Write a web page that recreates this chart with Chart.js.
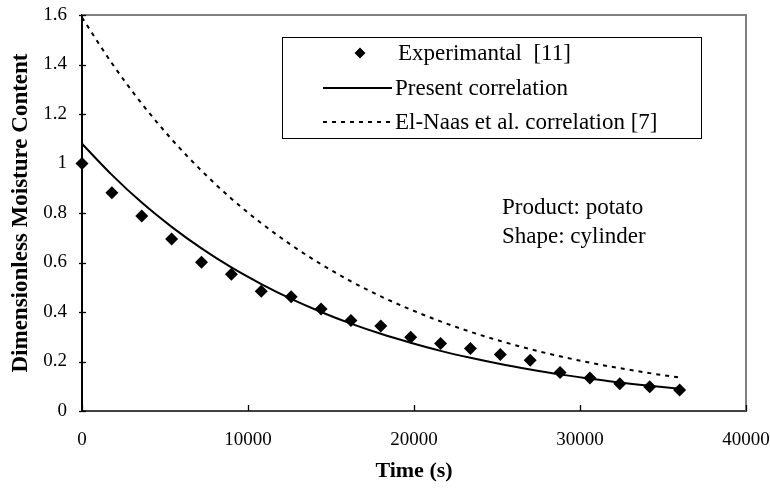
<!DOCTYPE html>
<html>
<head>
<meta charset="utf-8">
<script src="https://cdn.jsdelivr.net/npm/chart.js@4"></script>
<style>
html,body{margin:0;padding:0;background:#fff;}
canvas{display:block;}
</style>
</head>
<body>
<canvas id="c" width="770" height="488"></canvas>
<script>
// ---- data ----
const timeSec = [0,1800,3600,5400,7200,9000,10800,12600,14400,16200,18000,19800,21600,23400,25200,27000,28800,30600,32400,34200,36000];
const experimental = [1.0,0.882,0.788,0.695,0.601,0.553,0.484,0.462,0.412,0.366,0.343,0.298,0.273,0.253,0.228,0.205,0.156,0.133,0.110,0.098,0.085];
const presentCorr = [1.080,0.954,0.842,0.744,0.657,0.580,0.513,0.453,0.400,0.353,0.312,0.276,0.243,0.215,0.190,0.168,0.148,0.131,0.115,0.102,0.090];
const elNaasCorr = [1.590,1.405,1.242,1.098,0.971,0.858,0.759,0.671,0.593,0.524,0.463,0.410,0.362,0.320,0.283,0.250,0.221,0.195,0.173,0.153,0.135];
const seriesLabels = ['Experimantal  [11]','Present correlation','El-Naas et al. correlation [7]'];
const xTickMax = 40000, xTickStep = 10000;
const yTickMax = 1.6, yTickStep = 0.2;
const noteLines = ['Product: potato','Shape: cylinder'];

const FONT = '"Liberation Serif","Times New Roman",serif';
const pts = (ys) => timeSec.map((t,i)=>({x:t,y:ys[i]}));
const noPad = (s)=>{ s.paddingLeft=0; s.paddingRight=0; s.paddingTop=0; s.paddingBottom=0; };

const overlay = {
  id:'overlay',
  beforeDatasetsDraw(chart){
    const {ctx, chartArea:a, scales:{x,y}} = chart;
    ctx.save();
    ctx.strokeStyle='#808080'; ctx.lineWidth=2;
    ctx.beginPath();
    ctx.moveTo(a.left,a.top); ctx.lineTo(a.right,a.top); ctx.lineTo(a.right,a.bottom);
    ctx.stroke();
    ctx.strokeStyle='#000'; ctx.lineWidth=1.3;
    x.ticks.forEach(t=>{
      const px=Math.round(x.getPixelForValue(t.value))+0.5;
      ctx.beginPath(); ctx.moveTo(px,a.bottom); ctx.lineTo(px,a.bottom-6); ctx.stroke();
    });
    y.ticks.forEach(t=>{
      const py=Math.round(y.getPixelForValue(t.value))+0.5;
      ctx.beginPath(); ctx.moveTo(a.left-3,py); ctx.lineTo(a.left+4,py); ctx.stroke();
    });
    ctx.restore();
  },
  afterDraw(chart){
    const {ctx} = chart;
    const ds = chart.data.datasets;
    ctx.save();
    const bx=282, by=37, bw=419, bh=101;
    ctx.fillStyle='#fff'; ctx.fillRect(bx,by,bw,bh);
    ctx.strokeStyle='#000'; ctx.lineWidth=1;
    ctx.strokeRect(bx+0.5,by+0.5,bw,bh);
    const rows=[53,88,122];
    ctx.font='23px '+FONT; ctx.fillStyle='#000'; ctx.textBaseline='middle'; ctx.textAlign='left';
    ctx.beginPath();
    const mx=360,my=rows[0],r=5.5;
    ctx.moveTo(mx,my-r); ctx.lineTo(mx+r,my); ctx.lineTo(mx,my+r); ctx.lineTo(mx-r,my); ctx.closePath();
    ctx.fill();
    ctx.strokeStyle='#000'; ctx.lineWidth=2;
    ctx.beginPath(); ctx.moveTo(323,rows[1]); ctx.lineTo(392,rows[1]); ctx.stroke();
    ctx.setLineDash([4,5]);
    ctx.beginPath(); ctx.moveTo(323,rows[2]); ctx.lineTo(394,rows[2]); ctx.stroke();
    ctx.setLineDash([]);
    ctx.fillText(ds[0].label,398,rows[0]+1);
    ctx.fillText(ds[1].label,395,rows[1]+1);
    ctx.fillText(ds[2].label,395,rows[2]+1);
    ctx.fillText(noteLines[0],502,208);
    ctx.fillText(noteLines[1],502,237);
    ctx.restore();
  }
};

new Chart(document.getElementById('c'),{
  type:'scatter',
  data:{datasets:[
    {label:seriesLabels[0], data:pts(experimental), showLine:false, pointStyle:'rectRot', pointRadius:6.5, pointHoverRadius:6.5,
     backgroundColor:'#000', borderColor:'#000', borderWidth:0, clip:false, order:0},
    {label:seriesLabels[1], data:pts(presentCorr), showLine:true, pointRadius:0, borderColor:'#000', borderWidth:2,
     tension:0.4, cubicInterpolationMode:'monotone', order:1},
    {label:seriesLabels[2], data:pts(elNaasCorr), showLine:true, pointRadius:0, borderColor:'#000', borderWidth:2,
     borderDash:[4,5], tension:0.4, cubicInterpolationMode:'monotone', order:2}
  ]},
  options:{
    responsive:false, animation:false, devicePixelRatio:1,
    layout:{padding:{left:0,top:15,right:24,bottom:0}},
    plugins:{legend:{display:false}, tooltip:{enabled:false}},
    scales:{
      x:{type:'linear', min:0, max:xTickMax,
        ticks:{stepSize:xTickStep, color:'#000', font:{family:FONT,size:19}, padding:18, maxRotation:0,
          callback:(v)=>String(v)},
        grid:{drawOnChartArea:false, drawTicks:false},
        border:{display:true, color:'#404040', width:2},
        title:{display:true, text:'Time (s)', color:'#000', font:{family:FONT,size:22,weight:'bold'}, padding:{top:0,bottom:3}},
        afterFit:(s)=>{s.height=77; noPad(s);}
      },
      y:{type:'linear', min:0, max:yTickMax,
        ticks:{stepSize:yTickStep, color:'#000', font:{family:FONT,size:19}, padding:15,
          callback:(v)=>String(Math.round(v*10)/10)},
        grid:{drawOnChartArea:false, drawTicks:false},
        border:{display:true, color:'#000', width:2},
        title:{display:true, text:'Dimensionless Moisture Content', color:'#000', font:{family:FONT,size:23,weight:'bold'}, padding:{top:7,bottom:0}},
        afterFit:(s)=>{s.width=82; noPad(s);}
      }
    }
  },
  plugins:[overlay]
});
</script>
</body>
</html>
